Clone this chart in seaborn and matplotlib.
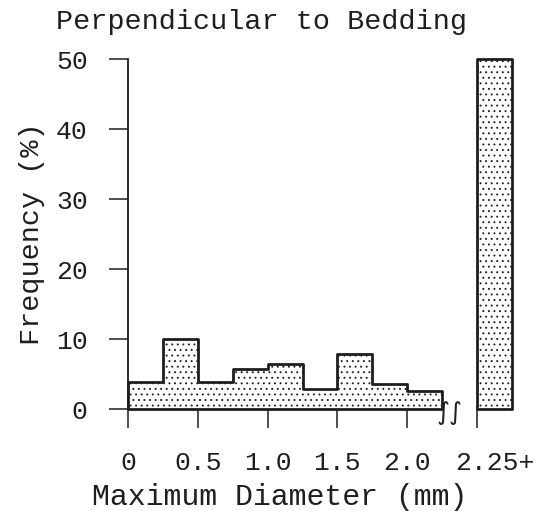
import matplotlib
matplotlib.use("Agg")
import matplotlib.pyplot as plt
import matplotlib.transforms as mtransforms
import numpy as np
import pandas as pd
import seaborn as sns

# Grain-size histogram (0.25 mm bins) plus the open-ended 2.25+ class
bin_edges = [0.0, 0.25, 0.5, 0.75, 1.0, 1.25, 1.5, 1.75, 2.0, 2.25]
frequency = [3.8, 10.0, 3.8, 5.7, 6.5, 2.9, 7.8, 3.6, 2.6]
coarse_edges = [2.5, 2.75]
coarse_frequency = [50.0]
tick_positions = [0, 0.5, 1.0, 1.5, 2.0, 2.5]
tick_labels = ["0", "0.5", "1.0", "1.5", "2.0", "2.25+"]
y_ticks = [0, 10, 20, 30, 40, 50]

sns.set_theme(style="white")
plt.rcParams["font.family"] = ["Liberation Mono", "DejaVu Sans Mono", "DejaVu Sans"]
plt.rcParams["hatch.linewidth"] = 0.65
plt.rcParams["hatch.color"] = "#555555"

ink = "#1e1e1e"

fig = plt.figure(figsize=(5.58, 5.11), dpi=100)
ax = fig.add_axes([128 / 558, 1 - 409 / 511, (514 - 128) / 558, 350 / 511])

fine = pd.DataFrame({
    "diameter": [(a + b) / 2 for a, b in zip(bin_edges[:-1], bin_edges[1:])],
    "freq": frequency,
})
coarse = pd.DataFrame({
    "diameter": [(coarse_edges[0] + coarse_edges[1]) / 2],
    "freq": coarse_frequency,
})

common = dict(element="step", fill=True, stat="count", color="white",
              edgecolor=ink, linewidth=2.0, hatch="...", alpha=1.0, clip_on=False)
sns.histplot(data=fine, x="diameter", weights="freq", bins=bin_edges, ax=ax, **common)
sns.histplot(data=coarse, x="diameter", weights="freq", bins=coarse_edges, ax=ax, **common)

ax.set_xlim(0, 2.765)
ax.set_ylim(0, 50)

for side in ("top", "right", "bottom"):
    ax.spines[side].set_visible(False)
ax.spines["left"].set_color(ink)
ax.spines["left"].set_linewidth(1.3)

ax.set_yticks(y_ticks)
ax.set_yticklabels([str(v) for v in y_ticks])
ax.set_xticks(tick_positions)
ax.set_xticklabels(tick_labels)
ax.tick_params(axis="both", direction="out", length=13.5, width=1.1, color=ink,
               labelsize=19, labelcolor=ink)
ax.tick_params(axis="x", bottom=True, pad=17)
ax.tick_params(axis="y", left=True, pad=15.5)

# the open-ended class label sits slightly right of its tick
shift = mtransforms.ScaledTranslation(0.18, 0, fig.dpi_scale_trans)
last = ax.get_xticklabels()[-1]
last.set_transform(last.get_transform() + shift)

# axis break marks between the binned range and the 2.25+ class
ax.text(2.30, -0.6, "\u222b\u222b", fontsize=18, family="DejaVu Sans", color=ink,
        ha="center", va="center", clip_on=False, fontstyle="italic")

ax.set_xlabel("")
ax.set_ylabel("Frequency (%)", fontsize=20.5, color=ink, labelpad=8)
fig.text(280 / 558, 1 - 497 / 511, "Maximum Diameter (mm)", fontsize=21.5,
         color=ink, ha="center", va="center")
fig.text(262 / 558, 1 - 22 / 511, "Perpendicular to Bedding", fontsize=20.5,
         color=ink, ha="center", va="center")

fig.savefig("out.png", dpi=100, facecolor="white")
